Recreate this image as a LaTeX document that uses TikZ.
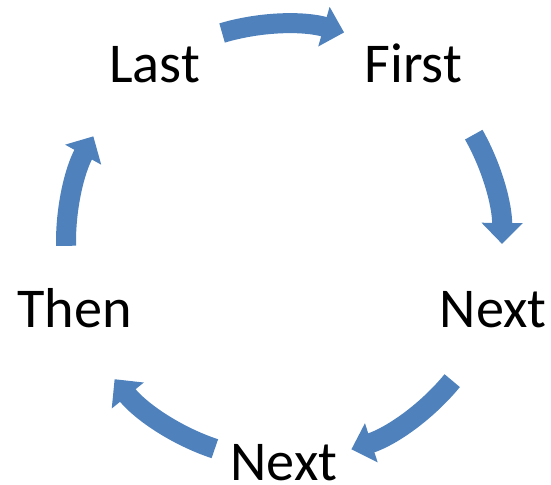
\documentclass[tikz,border=0pt]{standalone}
\usepackage{fontspec}
\setmainfont{Carlito}
\usetikzlibrary{arrows.meta,calc}
\definecolor{cycleblue}{HTML}{4F81BD}

\begin{document}
\begin{tikzpicture}[
  x=0.02cm, y=0.02cm,
  step label/.style={font=\fontsize{32}{38}\selectfont, inner sep=0pt, text height=20.5pt, text depth=0pt},
  cycle arrow/.style={draw=cycleblue, line width=0.4cm, -{Triangle[width=0.8cm, length=0.42cm]}}
]
\useasboundingbox (0,0) rectangle (551,484);
\coordinate (c) at (284,242);
\node[step label] (first) at ($(c)+(54:220)$) {First};
\node[step label] (next1) at ($(c)+(-18:220)$) {Next};
\node[step label] (next2) at ($(c)+(-90:220)$) {Next};
\node[step label] (then) at ($(c)+(-162:220)$) {Then};
\node[step label] (last) at ($(c)+(126:220)$) {Last};
% arrows between the steps
\draw[cycle arrow] ([shift={(106.5:218)}]c) arc[start angle=106.5, end angle=74, radius=218];
\draw[cycle arrow] ([shift={(29.5:218)}]c) arc[start angle=29.5, end angle=-0.5, radius=218];
\draw[cycle arrow] ([shift={(-39.5:218)}]c) arc[start angle=-39.5, end angle=-72, radius=218];
\draw[cycle arrow] ([shift={(-108.5:218)}]c) arc[start angle=-108.5, end angle=-141, radius=218];
\draw[cycle arrow] ([shift={(181:218)}]c) arc[start angle=181, end angle=151, radius=218];
\end{tikzpicture}
\end{document}
